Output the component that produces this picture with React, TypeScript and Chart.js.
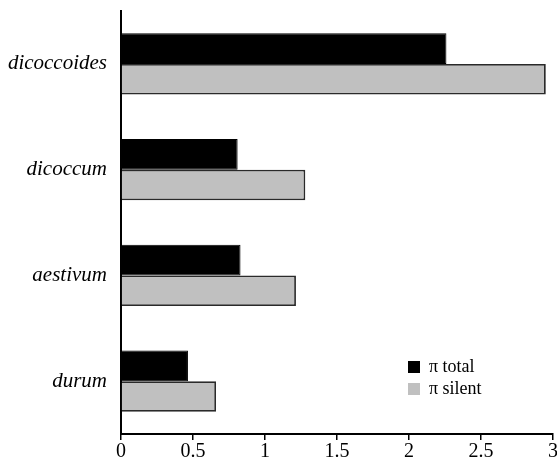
import React, { useEffect, useRef } from "react";
import { Chart, registerables } from "chart.js";

Chart.register(...registerables);

const categories = ["dicoccoides", "dicoccum", "aestivum", "durum"];
const piTotal = [2.26, 0.81, 0.83, 0.465];
const piSilent = [2.95, 1.28, 1.215, 0.66];
const seriesLabels = ["π total", "π silent"];
const xTicks = [0, 0.5, 1, 1.5, 2, 2.5, 3];

const FONT = "'Liberation Serif', 'Times New Roman', serif";

const legendPlugin = {
  id: "insideLegend",
  afterDraw(chart: any) {
    const ctx = chart.ctx;
    const ds = chart.data.datasets;
    ctx.save();
    ctx.font = `18px ${FONT}`;
    ctx.textBaseline = "middle";
    ctx.textAlign = "left";
    const x0 = 408;
    const ys = [367, 389];
    ds.forEach((d: any, i: number) => {
      ctx.fillStyle = d.backgroundColor;
      ctx.fillRect(x0, ys[i] - 6, 12, 12);
      ctx.fillStyle = "#000";
      ctx.fillText(d.label, x0 + 21, ys[i]);
    });
    ctx.restore();
  },
};

export default function App() {
  const ref = useRef<HTMLCanvasElement | null>(null);
  useEffect(() => {
    if (!ref.current) return;
    const chart = new Chart(ref.current, {
      type: "bar",
      data: {
        labels: categories,
        datasets: [
          {
            label: seriesLabels[0],
            data: piTotal,
            backgroundColor: "#000000",
            borderColor: "#000000",
            borderWidth: 1,
            categoryPercentage: 0.58,
            barPercentage: 1,
          },
          {
            label: seriesLabels[1],
            data: piSilent,
            backgroundColor: "#c0c0c0",
            borderColor: "#2a2a2a",
            borderWidth: 1.8,
            categoryPercentage: 0.58,
            barPercentage: 1,
          },
        ],
      },
      options: {
        indexAxis: "y",
        animation: false,
        responsive: true,
        maintainAspectRatio: false,
        layout: { padding: { top: 11, right: 4, left: 0, bottom: 0 } },
        plugins: {
          legend: { display: false },
          tooltip: { enabled: false },
        },
        scales: {
          x: {
            type: "linear",
            min: 0,
            max: 3,
            afterBuildTicks(scale: any) {
              scale.ticks = xTicks.map((v) => ({ value: v }));
            },
            afterFit(scale: any) {
              scale.height = 32;
              scale.paddingLeft = 0;
              scale.paddingRight = 0;
            },
            ticks: {
              color: "#000",
              font: { family: FONT, size: 20 },
              padding: 0,
              maxRotation: 0,
              autoSkip: false,
              callback: (v: any) => String(v),
            },
            grid: {
              display: true,
              drawOnChartArea: false,
              drawTicks: true,
              tickLength: 6,
              color: "#000",
              lineWidth: 1.5,
            },
            border: { display: true, color: "#000", width: 2 },
          },
          y: {
            type: "category",
            afterFit(scale: any) {
              scale.width = 121;
              scale.paddingTop = 0;
              scale.paddingBottom = 0;
            },
            ticks: {
              color: "#000",
              font: { family: FONT, size: 21, style: "italic" },
              padding: 6,
            },
            grid: { display: false },
            border: { display: true, color: "#000", width: 2 },
          },
        },
      },
      plugins: [legendPlugin],
    } as any);
    return () => chart.destroy();
  }, []);
  return (
    <div style={{ position: "absolute", left: 0, top: 0, width: 557, height: 466, background: "#fff" }}>
      <canvas ref={ref} />
    </div>
  );
}
